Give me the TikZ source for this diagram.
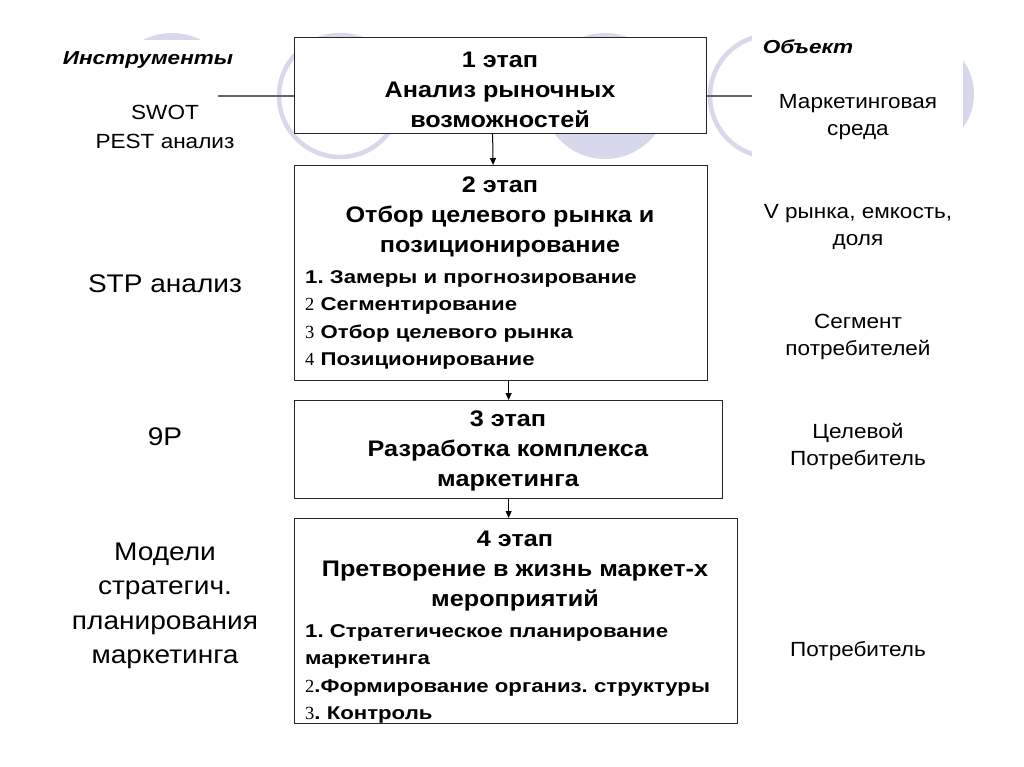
\documentclass[tikz,border=0pt]{standalone}
\usepackage{fontspec}
\setmainfont{Liberation Sans}[FakeStretch=1.1]
\newfontfamily\widefont{Liberation Sans}[FakeStretch=1.2]
\newfontfamily\headfont{Liberation Sans}[FakeStretch=1.12]
\newfontfamily\numfont{Liberation Serif}
\usetikzlibrary{arrows.meta}
\frenchspacing

\definecolor{lavender}{RGB}{216,216,236}
\def\discA{(172,96) circle (63)}
\def\ringA{(340,96) circle (61)}
\def\discB{(605,96) circle (63)}
\def\ringB{(771,96) circle (61)}
\def\discC{(917,94) circle (57)}

\begin{document}
\begin{tikzpicture}[x=1pt,y=-1pt,
  stage/.style={draw=black!85,line width=1.2pt,fill=white,anchor=north west,inner sep=0pt},
  head/.style={font=\headfont\bfseries\fontsize{22.5}{30}\selectfont,align=center},
  item/.style={font=\widefont\bfseries\fontsize{18.5}{27.5}\selectfont,align=left,anchor=north west,inner sep=0pt},
  side/.style={font=\fontsize{20.5}{27}\selectfont,align=center},
  tool/.style={font=\fontsize{25.5}{34.5}\selectfont,align=center},
  title/.style={font=\widefont\bfseries\itshape\fontsize{18.8}{22}\selectfont},
  flow/.style={-{Triangle[length=7pt,width=6pt]},line width=1pt}]
\useasboundingbox (0,0) rectangle (1024,767);
\fill[white] (0,0) rectangle (1024,767);

% background
\begin{scope}
\fill[lavender] \discA;
\draw[lavender,line width=4.5pt] \ringA;
\fill[lavender] \discB;
\draw[lavender,line width=4.5pt] \ringB;
\fill[lavender] \discC;
\fill[white] (0,40) rectangle (240,170);
\fill[white] (752,22) rectangle (963,170);
\draw[gray!80!black,line width=1.6pt] (218,96) -- (752,96);
\end{scope}

% stages
\node[stage,minimum width=412,minimum height=96] (s1) at (294,37) {};
\node[stage,minimum width=413,minimum height=215] (s2) at (294,165) {};
\node[stage,minimum width=428,minimum height=98] (s3) at (294,400) {};
\node[stage,minimum width=443,minimum height=205] (s4) at (294,518) {};

\draw[flow] ([xshift=-8pt]s1.south) -- ([xshift=-8pt]s2.north);
\draw[flow] (s3.north |- s2.south) -- (s3.north);
\draw[flow] (s3.south) -- (s3.south |- s4.north);

\node[head] (h1) at (500,90) {1 этап\\Анализ рыночных\\возможностей};
\node[head] (h2) at (500,217) {2 этап\\Отбор целевого рынка и\\позиционирование};
\node[item] (l2) at (305,270) {1. Замеры и прогнозирование\\
  {\numfont\mdseries 2} Сегментирование\\
  {\numfont\mdseries 3} Отбор целевого рынка\\
  {\numfont\mdseries 4} Позиционирование};
\node[head] (h3) at (508,451) {3 этап\\Разработка комплекса\\маркетинга};
\node[head] (h4) at (515,571) {4 этап\\Претворение в жизнь маркет-х\\мероприятий};
\node[item] (l4) at (305,624) {1. Стратегическое планирование\\
  маркетинга\\
  {\numfont\mdseries 2}.Формирование организ. структуры\\
  {\numfont\mdseries 3}. Контроль};

% tools
\node[title] (tools) at (148,60) {Инструменты};
\node[side,font=\fontsize{20.5}{29}\selectfont] (swot) at (165,127) {SWOT\\PEST анализ};
\node[tool] (stp) at (165,284) {STP анализ};
\node[tool] (nine) at (165,437) {9P};
\node[tool] (models) at (165,606) {Модели\\стратегич.\\планирования\\маркетинга};

% objects
\node[title] (obj) at (808,47) {Объект};
\node[side] (env) at (858,117) {Маркетинговая\\среда};
\node[side] (vol) at (858,227) {V рынка, емкость,\\доля};
\node[side] (seg) at (858,337) {Сегмент\\потребителей};
\node[side] (tgt) at (858,447) {Целевой\\Потребитель};
\node[side] (cons) at (858,651) {Потребитель};
\end{tikzpicture}
\end{document}
